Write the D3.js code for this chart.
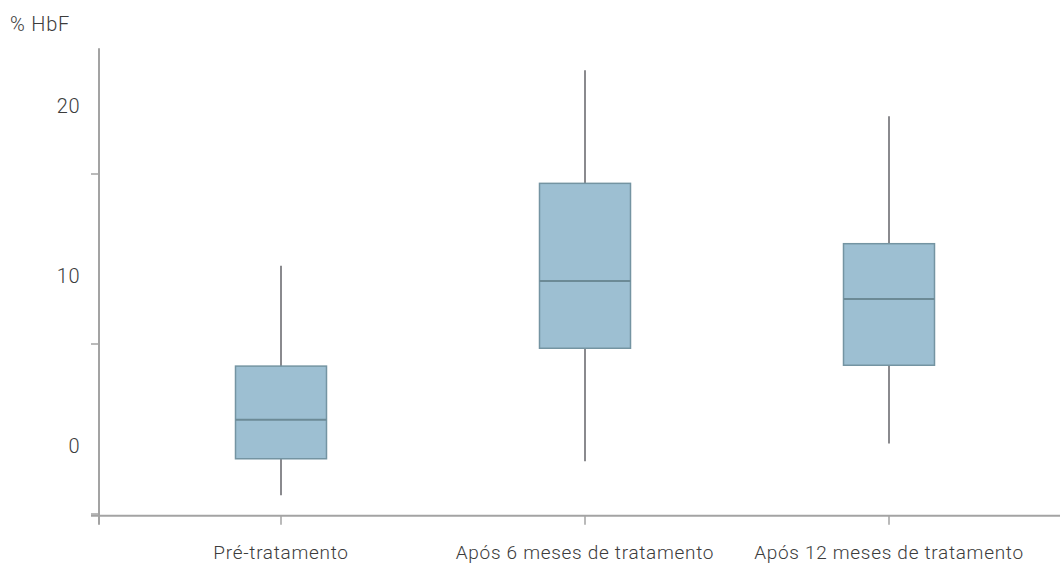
<!DOCTYPE html>
<html>
<head>
<meta charset="utf-8">
<script src="https://cdn.jsdelivr.net/npm/d3@7"></script>
<style>
  body { margin: 0; background: #fff; }
  text { font-family: Roboto, "Noto Sans", sans-serif; font-weight: 300; fill: #3c3c3c; }
</style>
</head>
<body>
<div id="container"></div>
<script>
const width = 1060, height = 565;

// data
const groups = ["Pré-tratamento", "Após 6 meses de tratamento", "Após 12 meses de tratamento"];
const whiskerLow = [-2.9, -0.9, 0.15];
const q1 = [-0.75, 5.75, 4.75];
const median = [1.55, 9.7, 8.65];
const q3 = [4.7, 15.45, 11.9];
const whiskerHigh = [10.6, 22.1, 19.4];

const yLabels = [0, 10, 20];
const yTickMarks = [-4, 6, 16];
const yAxisTop = 23.4, yAxisBottom = -4.1;

const svg = d3.select("#container").append("svg")
    .attr("width", width).attr("height", height);

const y = d3.scaleLinear().domain([0, 20]).range([446, 106]);
const x = d3.scalePoint().domain(groups).range([129, 1041]).padding(0.5);
const boxW = 91;

const axisColor = "#a3a3a3";
const x0 = 99, yBase = y(yAxisBottom);

// y axis line + ticks
svg.append("line")
    .attr("x1", x0).attr("x2", x0)
    .attr("y1", y(yAxisTop)).attr("y2", yBase + 9)
    .attr("stroke", axisColor).attr("stroke-width", 2);

svg.selectAll(".ytick").data(yTickMarks).enter().append("line")
    .attr("class", "ytick")
    .attr("x1", x0 - 8).attr("x2", x0)
    .attr("y1", d => y(d)).attr("y2", d => y(d))
    .attr("stroke", axisColor).attr("stroke-width", 1.5);

svg.selectAll(".ylabel").data(yLabels).enter().append("text")
    .attr("class", "ylabel")
    .attr("x", 80).attr("y", d => y(d))
    .attr("dy", "0.36em")
    .attr("text-anchor", "end")
    .attr("font-size", 20)
    .attr("letter-spacing", "0.5px")
    .text(d => d);

svg.append("text")
    .attr("x", 10).attr("y", 31)
    .attr("font-size", 20)
    .attr("letter-spacing", "0.8px")
    .text("% HbF");

// x axis line + ticks
svg.append("line")
    .attr("x1", x0 - 8).attr("x2", width)
    .attr("y1", yBase).attr("y2", yBase)
    .attr("stroke", axisColor).attr("stroke-width", 2);

svg.selectAll(".xtick").data(groups).enter().append("line")
    .attr("class", "xtick")
    .attr("x1", d => x(d)).attr("x2", d => x(d))
    .attr("y1", yBase).attr("y2", yBase + 9)
    .attr("stroke", axisColor).attr("stroke-width", 1.5);

svg.selectAll(".xlabel").data(groups).enter().append("text")
    .attr("class", "xlabel")
    .attr("x", d => x(d)).attr("y", 559)
    .attr("text-anchor", "middle")
    .attr("font-size", 19)
    .attr("letter-spacing", "0.7px")
    .text(d => d);

// boxes
const box = svg.selectAll(".box").data(groups).enter().append("g")
    .attr("class", "box");

box.append("line")
    .attr("x1", d => x(d)).attr("x2", d => x(d))
    .attr("y1", (d, i) => y(whiskerHigh[i])).attr("y2", (d, i) => y(whiskerLow[i]))
    .attr("stroke", "#8a8a8e").attr("stroke-width", 2);

box.append("rect")
    .attr("x", d => x(d) - boxW / 2).attr("width", boxW)
    .attr("y", (d, i) => y(q3[i]))
    .attr("height", (d, i) => y(q1[i]) - y(q3[i]))
    .attr("fill", "#9dbfd2").attr("stroke", "#7494a2").attr("stroke-width", 1.5);

box.append("line")
    .attr("x1", d => x(d) - boxW / 2).attr("x2", d => x(d) + boxW / 2)
    .attr("y1", (d, i) => y(median[i])).attr("y2", (d, i) => y(median[i]))
    .attr("stroke", "#6c8a96").attr("stroke-width", 2);
</script>
</body>
</html>
